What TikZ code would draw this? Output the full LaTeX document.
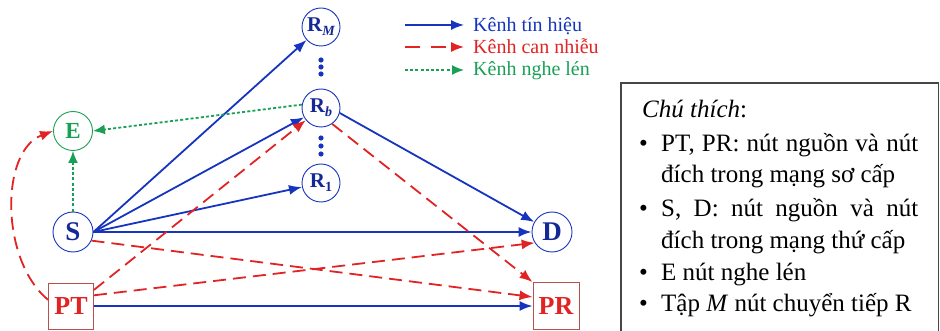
\documentclass[tikz,border=0pt]{standalone}
\usepackage{fontspec}
\setmainfont{Liberation Serif}
\usetikzlibrary{arrows.meta}
\definecolor{cblue}{RGB}{22,52,190}
\definecolor{cnavy}{RGB}{20,40,150}
\definecolor{cred}{RGB}{225,35,35}
\definecolor{cgreen}{RGB}{25,160,85}
\definecolor{cboxred}{RGB}{185,80,80}
\definecolor{cframe}{RGB}{70,70,70}
\newcommand{\rlab}[1]{{\fontsize{21}{21}\selectfont\bfseries R}\raisebox{-4pt}{\fontsize{14}{14}\selectfont\bfseries #1}}
\newcommand{\fs}[1]{\fontsize{#1}{#1}\selectfont}
\begin{document}
\begin{tikzpicture}[x=1pt,y=-1pt,
  sig/.style={draw=cblue, line width=1.8pt, -{Latex[length=13pt,width=10pt]}},
  intf/.style={draw=cred, line width=1.8pt, dash pattern=on 13pt off 7pt, -{Latex[length=13pt,width=10pt]}},
  eav/.style={draw=cgreen, line width=1.8pt, dash pattern=on 3pt off 2.2pt, -{Latex[length=12pt,width=10pt]}},
  rnode/.style={circle, draw=cblue, line width=0.9pt, minimum size=38pt, inner sep=0pt, text=cnavy, fill=white},
  enode/.style={circle, draw=cgreen, line width=0.9pt, minimum size=39pt, inner sep=0pt, text=cgreen, fill=white, font=\fs{23}\bfseries},
  pnode/.style={rectangle, draw=cboxred, line width=0.9pt, minimum width=45pt, minimum height=46pt, inner sep=0pt, text=cred, fill=white, font=\fs{26}\bfseries},
  vdot/.style={fill=cblue, draw=none},
  legtxt/.style={anchor=base west, inner sep=0pt, font=\fs{20}},
  notetxt/.style={anchor=base west, inner sep=0pt, font=\fs{25}}
]
\path[use as bounding box] (0,0) rectangle (940,331);
\clip (0,0) rectangle (940,331);

% nodes
\node[rnode] (RM) at (321,27) {\rlab{\itshape M}};
\node[rnode] (Rb) at (321,108) {\rlab{\itshape b}};
\node[rnode] (R1) at (321,183) {\rlab{1}};
\node[enode] (E) at (73,131) {E};
\node[rnode, minimum size=40pt, font=\fs{27}\bfseries] (S) at (73,232) {S};
\node[rnode, minimum size=40pt, font=\fs{27}\bfseries] (D) at (552,232) {D};
\node[pnode] (PT) at (71,306) {PT};
\node[pnode, minimum width=46pt, minimum height=47pt] (PR) at (556,306) {PR};

% vertical dots
\foreach \yy in {60,67,74,138,146,154} \fill[vdot] (321,\yy) circle (2.6pt);

% blue signal channels
\draw[sig] (S.east) -- (RM);
\draw[sig] (S.east) -- (Rb);
\draw[sig] (S.east) -- (R1);
\draw[sig] (S.east) -- (D);
\draw[sig] (Rb.-15) -- (D);
\draw[sig] (PT.east) -- (PR.west);

% red interference channels
\draw[intf] (PT.35) -- (Rb);
\draw[intf] (PT.25) -- (D.212);
\draw[intf] (S.-25) -- (PR.159);
\draw[intf] (Rb.-55) -- (PR.north west);
\draw[intf] (PT.165) .. controls +(-48,-40) and +(-53,20) .. (E.west);

% green eavesdropping channels
\draw[eav] (S.north) -- (E.south);
\draw[eav] (Rb.170) -- (E.east);

% legend (top)
\coordinate (k1a) at (405,25); \coordinate (k1b) at (464,25);
\coordinate (k2a) at (405,47); \coordinate (k2b) at (464,47);
\coordinate (k3a) at (405,70); \coordinate (k3b) at (464,70);
\draw[sig, line width=1.5pt] (k1a) -- (k1b);
\draw[intf, line width=1.5pt, dash pattern=on 15pt off 11pt] (k2a) -- (k2b);
\draw[eav, line width=1.5pt] (k3a) -- (k3b);
\node[legtxt, text=cblue] (t1) at (473,32) {Kênh tín hiệu};
\node[legtxt, text=cred] (t2) at (473,54) {Kênh can nhiễu};
\node[legtxt, text=cgreen] (t3) at (473,76) {Kênh nghe lén};

% notes box
\draw[cframe, line width=1.2pt] (621,83) rectangle (938.5,350);
\node[notetxt] (n0) at (642,118) {\textit{Chú thích}:};
\node[notetxt] (b1) at (639,152) {\textbullet};
\node[notetxt] (n1) at (661,152) {\makebox[257pt][s]{PT, PR: nút nguồn và nút}};
\node[notetxt] (n2) at (661,183) {đích trong mạng sơ cấp};
\node[notetxt] (b2) at (639,217) {\textbullet};
\node[notetxt] (n3) at (661,217) {\makebox[257pt][s]{S, D: nút nguồn và nút}};
\node[notetxt] (n4) at (661,248) {đích trong mạng thứ cấp};
\node[notetxt] (b3) at (639,280) {\textbullet};
\node[notetxt] (n5) at (661,280) {E nút nghe lén};
\node[notetxt] (b4) at (639,311) {\textbullet};
\node[notetxt] (n6) at (661,311) {Tập \textit{M} nút chuyển tiếp R};
\end{tikzpicture}
\end{document}
